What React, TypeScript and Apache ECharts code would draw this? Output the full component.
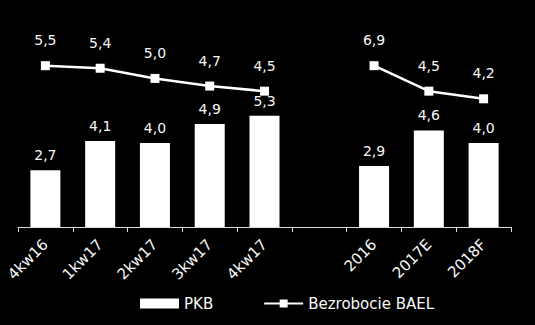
import React, { useEffect, useRef } from "react";
import * as echarts from "echarts";

const categories = ["4kw16", "1kw17", "2kw17", "3kw17", "4kw17", "", "2016", "2017E", "2018F"];
const pkb = [2.7, 4.1, 4.0, 4.9, 5.3, null, 2.9, 4.6, 4.0];
// printed values of the unemployment series
const bezrobocieLabels = [5.5, 5.4, 5.0, 4.7, 4.5, null, 6.9, 4.5, 4.2];
// positions of the unemployment markers
const bezrobocieDrawn = [5.5, 5.4, 5.0, 4.7, 4.5, null, 5.5, 4.5, 4.2];

const FONT = "DejaVu Sans";
const TXT = "#f7f7f7";

const fmt = (v: number | null) => (v == null ? "" : v.toFixed(1).replace(".", ","));

export default function App() {
  const ref = useRef<HTMLDivElement>(null);
  useEffect(() => {
    if (!ref.current) return;
    const chart = echarts.init(ref.current, null, { renderer: "svg" });
    chart.setOption({
      animation: false,
      backgroundColor: "#000",
      textStyle: { fontFamily: FONT },
      grid: { left: 18, right: 24, top: 17, bottom: 98 },
      legend: {
        bottom: 9,
        left: 135,
        itemGap: 50,
        textStyle: { color: TXT, fontSize: 15, fontFamily: FONT },
        data: [
          { name: "PKB", icon: "rect", itemStyle: { color: "#fff" } },
          { name: "Bezrobocie BAEL" },
        ],
        itemWidth: 39,
        itemHeight: 10,
      },
      xAxis: {
        type: "category",
        data: categories,
        axisLine: { lineStyle: { color: "#d9d9d9", width: 1 } },
        axisTick: { show: true, length: 5, lineStyle: { color: "#d9d9d9" }, alignWithLabel: false },
        axisLabel: {
          interval: 0,
          rotate: 45,
          color: TXT,
          fontSize: 15,
          fontFamily: FONT,
          margin: 15,
        },
      },
      yAxis: [
        { type: "value", min: 0, max: 10, show: false, splitLine: { show: false } },
        { type: "value", min: -0.83, max: 7.41, show: false, splitLine: { show: false } },
      ],
      series: [
        {
          name: "PKB",
          type: "bar",
          data: pkb,
          barWidth: 30,
          itemStyle: { color: "#fff" },
          label: {
            show: true,
            position: "top",
            distance: 8,
            color: TXT,
            fontSize: 14,
            fontFamily: FONT,
            formatter: (p: any) => fmt(p.value),
          },
        },
        {
          name: "Bezrobocie BAEL",
          type: "line",
          yAxisIndex: 1,
          data: bezrobocieDrawn,
          connectNulls: false,
          symbol: "rect",
          symbolSize: 9,
          lineStyle: { color: "#fff", width: 2.5 },
          itemStyle: { color: "#fff" },
          label: {
            show: true,
            position: "top",
            distance: 14,
            color: TXT,
            fontSize: 14,
            fontFamily: FONT,
            formatter: (p: any) => fmt(bezrobocieLabels[p.dataIndex]),
          },
        },
      ],
    });
    return () => chart.dispose();
  }, []);
  return <div ref={ref} style={{ width: 535, height: 325, position: "fixed", left: 0, top: 0 }} />;
}
